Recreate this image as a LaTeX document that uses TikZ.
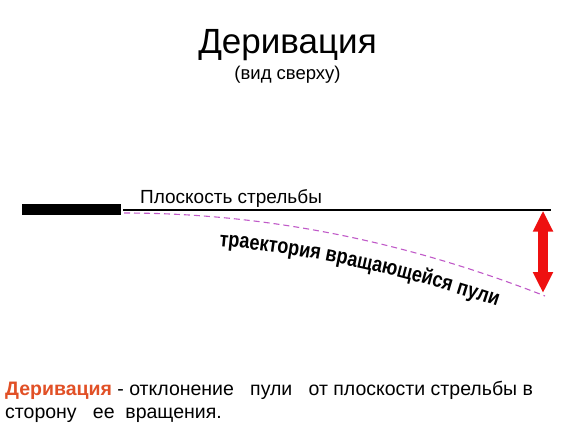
\documentclass[tikz,border=0pt]{standalone}
\usepackage{fontspec}
\setmainfont{Liberation Sans}
\newfontfamily\trajfont[FakeStretch=0.84]{Liberation Sans}
\usetikzlibrary{arrows.meta}
\usetikzlibrary{decorations.text}
\definecolor{driftred}{RGB}{225,80,38}
\definecolor{trajviolet}{RGB}{192,90,200}
\definecolor{arrowred}{RGB}{238,16,16}

\begin{document}
\begin{tikzpicture}[x=1pt,y=-1pt,every node/.style={inner sep=0pt}]
\useasboundingbox (0,0) rectangle (575,430);

%title
\node[anchor=base,font=\fontsize{35}{40}\selectfont] (title) at (287.5,53.3) {Деривация};
\node[anchor=base,font=\fontsize{18.5}{22}\selectfont] (subtitle) at (287.5,80) {(вид сверху)};

%barrel
\fill (22,204) rectangle (121,215);

%points
\coordinate (muzzle) at (123,210);
\coordinate (aim) at (551,210);
\coordinate (drift) at (545,296);

%plane of fire
\draw[line width=1.2pt] (muzzle) -- (aim);
\node[anchor=base west,font=\fontsize{19}{22}\selectfont] (plane) at (140,203.3) {Плоскость стрельбы};

%trajectory
\draw[trajviolet,line width=1.1pt,dash pattern=on 6pt off 4pt]
	(124,213) .. controls (264,213) and (405,241) .. (drift);
\path[decorate,decoration={text along path,text align=center,
	text={|\trajfont\fontsize{21.5}{25}\selectfont\bfseries|траектория вращающейся пули}}]
	(200,244.5) .. controls (305,252) and (410,275.5) .. (515,312.5);

%drift arrow
\draw[arrowred,line width=10pt,{Triangle[length=21pt,width=19pt]}-{Triangle[length=21pt,width=19pt]}]
	(543,210.7) -- (543,293);

%definition
\node[anchor=base west,align=left,font=\fontsize{19.5}{23}\selectfont] (defn) at (5,418)
	{{\color{driftred}\bfseries Деривация} - отклонение\ \ \ пули\ \ \ от плоскости стрельбы в\\сторону\ \ \ ее\ \ вращения.};
\end{tikzpicture}
\end{document}
